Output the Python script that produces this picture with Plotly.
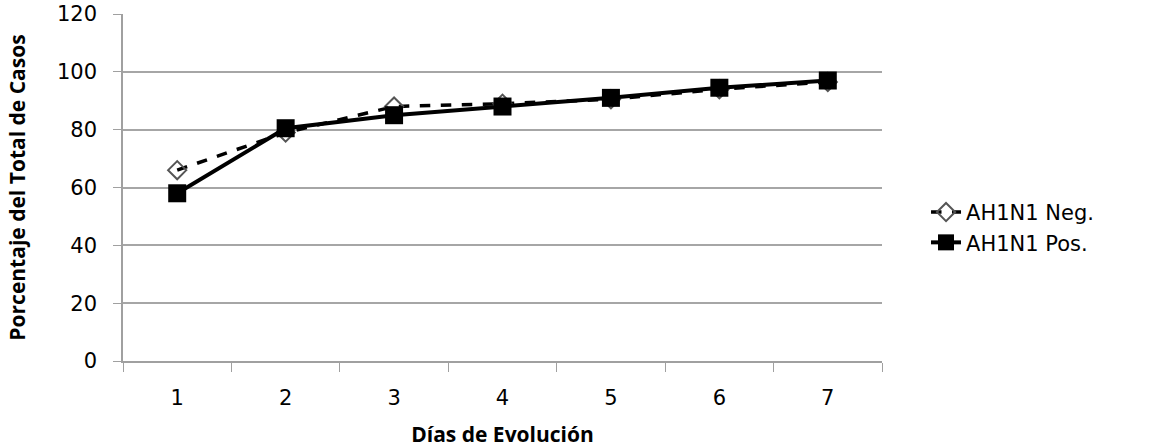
import plotly.graph_objects as go

days = ["1", "2", "3", "4", "5", "6", "7"]
neg_values = [66, 79, 88, 89, 90.5, 94, 96.5]
pos_values = [58, 80.5, 85, 88, 91, 94.5, 97]
y_ticks = [0, 20, 40, 60, 80, 100, 120]

tick_font = dict(family="DejaVu Sans, Verdana, sans-serif", size=21, color="#000")
title_font = dict(family="Open Sans, Liberation Sans, Arial, sans-serif", size=21, color="#000")

fig = go.Figure()
fig.add_trace(go.Scatter(
    x=days, y=neg_values, name="AH1N1 Neg.", mode="lines+markers",
    line=dict(color="#000", width=3.5, dash="dash"),
    marker=dict(symbol="diamond-open", size=14, color="#555", line=dict(width=2, color="#555")),
))
fig.add_trace(go.Scatter(
    x=days, y=pos_values, name="AH1N1 Pos.", mode="lines+markers",
    line=dict(color="#000", width=4),
    marker=dict(symbol="square", size=18, color="#000"),
))

fig.update_layout(
    width=1156, height=448,
    margin=dict(l=123, r=274, t=14, b=87, autoexpand=False),
    paper_bgcolor="white", plot_bgcolor="white",
    font=tick_font,
    showlegend=True,
    legend=dict(x=1.058, y=0.385, xanchor="left", yanchor="middle",
                font=dict(family="DejaVu Sans, Verdana, sans-serif", size=21, color="#000"),
                tracegroupgap=8, itemwidth=30),
)
fig.update_xaxes(
    type="category", tickson="boundaries", ticks="outside", ticklen=9, tickcolor="#a0a0a0",
    showline=True, linecolor="#a0a0a0", linewidth=1.5, showgrid=False,
    tickfont=tick_font, ticklabelstandoff=17, automargin=False,
    title=dict(text="<b>Días de Evolución</b>", font=title_font, standoff=22),
    range=[-0.5, 6.5],
)
fig.update_yaxes(
    range=[0, 120], tickvals=y_ticks, ticks="outside", ticklen=8, tickcolor="#a0a0a0",
    showline=True, linecolor="#a0a0a0", linewidth=1.5,
    showgrid=True, gridcolor="#a6a6a6", gridwidth=1.5, zeroline=False,
    tickfont=tick_font, ticklabelstandoff=12, automargin=False,
    title=dict(text="<b>Porcentaje del Total de Casos</b>", font=title_font, standoff=26),
)

fig.write_html("out.html", config={"displayModeBar": False},
               post_script="document.body.style.margin='0';")
